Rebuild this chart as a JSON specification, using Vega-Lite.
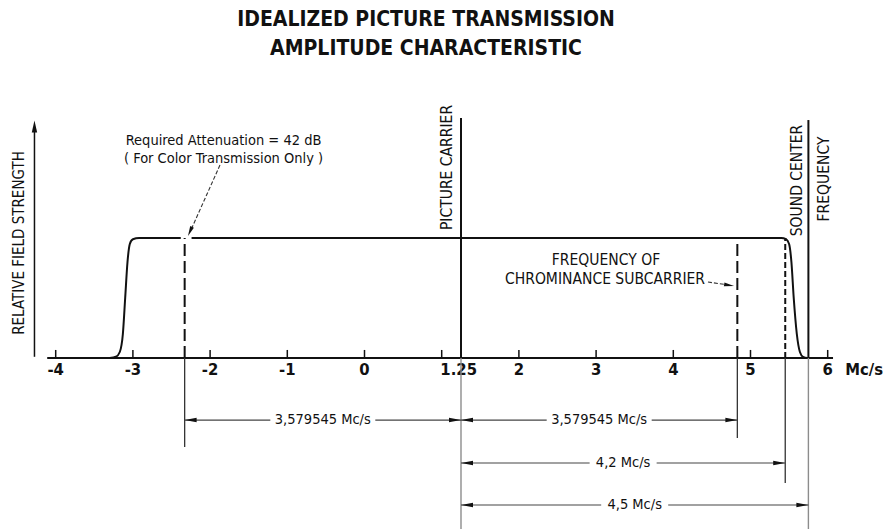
{
  "$schema": "https://vega.github.io/schema/vega-lite/v6.json",
  "width": 886,
  "height": 459,
  "autosize": {"type": "none"},
  "padding": {"top": 70, "left": 0, "right": 0, "bottom": 0},
  "background": "white",
  "title": {
    "text": ["IDEALIZED PICTURE TRANSMISSION", "AMPLITUDE CHARACTERISTIC"],
    "font": "DejaVu Sans Condensed, DejaVu Sans, sans-serif",
    "fontSize": 21,
    "fontWeight": "bold",
    "color": "#111",
    "anchor": "middle",
    "dx": -17,
    "offset": 11,
    "lineHeight": 29
  },
  "config": {
    "view": {"stroke": null},
    "text": {"font": "DejaVu Sans Condensed, DejaVu Sans, sans-serif", "fill": "#111", "baseline": "middle", "align": "center"}
  },
  "encoding": {
    "x": {"field": "x", "type": "quantitative", "scale": {"domain": [-4.7215, 6.7552], "nice": false, "zero": false}, "axis": null},
    "y": {"field": "y", "type": "quantitative", "scale": {"domain": [-1.425, 2.4], "nice": false, "zero": false}, "axis": null}
  },
  "layer": [
    {
      "data": {"values": [{"x": -4.275, "y": 0.01, "y2": 1.9}]},
      "mark": {"type": "rule", "strokeWidth": 1.5, "color": "#111"},
      "encoding": {"y2": {"field": "y2"}}
    },
    {
      "data": {"values": [{"x": -4.275, "y": 1.93}]},
      "mark": {"type": "point", "shape": "M0,-1L0.45,1L-0.45,1Z", "filled": true, "size": 144, "color": "#111", "opacity": 1, "strokeWidth": 0}
    },
    {
      "data": {"values": [{"x": -4.11, "x2": 6.069, "y": 0}]},
      "mark": {"type": "rule", "strokeWidth": 2.2, "color": "#111"},
      "encoding": {"x2": {"field": "x2"}}
    },
    {
      "data": {"values": [
        {"x": -4, "y": 0, "y2": 0.067}, {"x": -3, "y": 0, "y2": 0.067}, {"x": -2, "y": 0, "y2": 0.067},
        {"x": -1, "y": 0, "y2": 0.067}, {"x": 0, "y": 0, "y2": 0.067}, {"x": 1, "y": 0, "y2": 0.067},
        {"x": 2, "y": 0, "y2": 0.067}, {"x": 3, "y": 0, "y2": 0.067}, {"x": 4, "y": 0, "y2": 0.067},
        {"x": 5, "y": 0, "y2": 0.067}, {"x": 6, "y": 0, "y2": 0.067}
      ]},
      "mark": {"type": "rule", "strokeWidth": 1.5, "color": "#111"},
      "encoding": {"y2": {"field": "y2"}}
    },
    {
      "data": {"values": [
        {"x": -4, "y": -0.1, "label": "-4"}, {"x": -3, "y": -0.1, "label": "-3"}, {"x": -2, "y": -0.1, "label": "-2"},
        {"x": -1, "y": -0.1, "label": "-1"}, {"x": 0, "y": -0.1, "label": "0"}, {"x": 1.22, "y": -0.1, "label": "1.25"},
        {"x": 2, "y": -0.1, "label": "2"}, {"x": 3, "y": -0.1, "label": "3"}, {"x": 4, "y": -0.1, "label": "4"},
        {"x": 5, "y": -0.1, "label": "5"}, {"x": 6, "y": -0.1, "label": "6"}, {"x": 6.471, "y": -0.1, "label": "Mc/s"}
      ]},
      "mark": {"type": "text", "fontSize": 16.5, "fontWeight": "bold"},
      "encoding": {"text": {"field": "label"}}
    },
    {
      "data": {"values": [
        {"part": "a", "x": -3.30, "y": 0}, {"part": "a", "x": -3.22, "y": 0.01}, {"part": "a", "x": -3.17, "y": 0.05},
        {"part": "a", "x": -3.13, "y": 0.2}, {"part": "a", "x": -3.10, "y": 0.5}, {"part": "a", "x": -3.07, "y": 0.8},
        {"part": "a", "x": -3.04, "y": 0.95}, {"part": "a", "x": -3.00, "y": 0.99}, {"part": "a", "x": -2.92, "y": 1.0},
        {"part": "a", "x": -2.38, "y": 1.0},
        {"part": "b", "x": -2.24, "y": 1.0}, {"part": "b", "x": 5.40, "y": 1.0}, {"part": "b", "x": 5.46, "y": 0.99},
        {"part": "b", "x": 5.50, "y": 0.95}, {"part": "b", "x": 5.53, "y": 0.8}, {"part": "b", "x": 5.56, "y": 0.5},
        {"part": "b", "x": 5.60, "y": 0.2}, {"part": "b", "x": 5.64, "y": 0.05}, {"part": "b", "x": 5.68, "y": 0.01},
        {"part": "b", "x": 5.74, "y": 0}
      ]},
      "mark": {"type": "line", "interpolate": "monotone", "strokeWidth": 2, "color": "#111"},
      "encoding": {"detail": {"field": "part"}}
    },
    {
      "data": {"values": [{"x": 1.25, "y": 0, "y2": 2.0}, {"x": 5.75, "y": 0, "y2": 1.983}]},
      "mark": {"type": "rule", "strokeWidth": 2, "color": "#111"},
      "encoding": {"y2": {"field": "y2"}}
    },
    {
      "data": {"values": [{"x": 1.25, "y": -1.425, "y2": 0}, {"x": 5.75, "y": -1.425, "y2": 0}]},
      "mark": {"type": "rule", "strokeWidth": 1.4, "color": "#8c8c8c"},
      "encoding": {"y2": {"field": "y2"}}
    },
    {
      "data": {"values": [{"x": -2.3295, "y": 0, "y2": 1.0}, {"x": 4.8295, "y": 0, "y2": 1.0}]},
      "mark": {"type": "rule", "strokeWidth": 2, "color": "#111", "strokeDash": [12, 5]},
      "encoding": {"y2": {"field": "y2"}}
    },
    {
      "data": {"values": [{"x": 5.45, "y": 0, "y2": 1.0}]},
      "mark": {"type": "rule", "strokeWidth": 2, "color": "#111", "strokeDash": [6, 3]},
      "encoding": {"y2": {"field": "y2"}}
    },
    {
      "data": {"values": [{"x": -2.3295, "y": -0.742, "y2": 0}, {"x": 4.8295, "y": -0.667, "y2": 0}, {"x": 5.45, "y": -1.042, "y2": 0}]},
      "mark": {"type": "rule", "strokeWidth": 1.3, "color": "#333"},
      "encoding": {"y2": {"field": "y2"}}
    },
    {
      "data": {"values": [
        {"x": -2.3295, "x2": -1.22, "y": -0.517}, {"x": 0.14, "x2": 1.25, "y": -0.517},
        {"x": 1.25, "x2": 2.36, "y": -0.517}, {"x": 3.72, "x2": 4.8295, "y": -0.517},
        {"x": 1.25, "x2": 2.916, "y": -0.875}, {"x": 3.784, "x2": 5.45, "y": -0.875},
        {"x": 1.25, "x2": 3.066, "y": -1.225}, {"x": 3.934, "x2": 5.75, "y": -1.225}
      ]},
      "mark": {"type": "rule", "strokeWidth": 1.2, "color": "#444"},
      "encoding": {"x2": {"field": "x2"}}
    },
    {
      "data": {"values": [
        {"x": -2.252, "y": -0.517}, {"x": 1.328, "y": -0.517}, {"x": 1.328, "y": -0.875}, {"x": 1.328, "y": -1.225}
      ]},
      "mark": {"type": "point", "shape": "M-1,0L1,-0.38L1,0.38Z", "filled": true, "size": 144, "color": "#111", "opacity": 1, "strokeWidth": 0}
    },
    {
      "data": {"values": [
        {"x": 1.172, "y": -0.517}, {"x": 4.752, "y": -0.517}, {"x": 5.372, "y": -0.875}, {"x": 5.672, "y": -1.225}
      ]},
      "mark": {"type": "point", "shape": "M1,0L-1,-0.38L-1,0.38Z", "filled": true, "size": 144, "color": "#111", "opacity": 1, "strokeWidth": 0}
    },
    {
      "data": {"values": [
        {"x": -0.5398, "y": -0.517, "label": "3,579545 Mc/s"},
        {"x": 3.0398, "y": -0.517, "label": "3,579545 Mc/s"},
        {"x": 3.35, "y": -0.875, "label": "4,2 Mc/s"},
        {"x": 3.5, "y": -1.225, "label": "4,5 Mc/s"}
      ]},
      "mark": {"type": "text", "fontSize": 14.5},
      "encoding": {"text": {"field": "label"}}
    },
    {
      "data": {"values": [
        {"x": -1.826, "y": 1.808, "label": "Required Attenuation = 42 dB"},
        {"x": -1.826, "y": 1.658, "label": "( For Color Transmission Only )"}
      ]},
      "mark": {"type": "text", "fontSize": 14.5},
      "encoding": {"text": {"field": "label"}}
    },
    {
      "data": {"values": [
        {"x": 3.128, "y": 0.817, "label": "FREQUENCY OF"},
        {"x": 3.115, "y": 0.658, "label": "CHROMINANCE SUBCARRIER"}
      ]},
      "mark": {"type": "text", "fontSize": 15.5},
      "encoding": {"text": {"field": "label"}}
    },
    {
      "data": {"values": [
        {"x": 1.075, "y": 1.5875, "label": "PICTURE CARRIER"},
        {"x": 5.596, "y": 1.479, "label": "SOUND CENTER"},
        {"x": 5.946, "y": 1.492, "label": "FREQUENCY"}
      ]},
      "mark": {"type": "text", "fontSize": 15.5, "angle": 270},
      "encoding": {"text": {"field": "label"}}
    },
    {
      "data": {"values": [{"x": -4.475, "y": 0.958, "label": "RELATIVE FIELD STRENGTH"}]},
      "mark": {"type": "text", "fontSize": 15, "angle": 270},
      "encoding": {"text": {"field": "label"}}
    },
    {
      "data": {"values": [
        {"x": -1.872, "y": 1.608, "x2": -2.254, "y2": 1.058},
        {"x": 4.449, "y": 0.633, "x2": 4.72, "y2": 0.608}
      ]},
      "mark": {"type": "rule", "strokeWidth": 1.1, "color": "#333", "strokeDash": [4, 2]},
      "encoding": {"x2": {"field": "x2"}, "y2": {"field": "y2"}}
    },
    {
      "data": {"values": [{"x": -2.26, "y": 1.055}]},
      "mark": {"type": "point", "shape": "M0,-1L0.4,1L-0.4,1Z", "filled": true, "size": 100, "angle": 204, "color": "#111", "opacity": 1, "strokeWidth": 0}
    },
    {
      "data": {"values": [{"x": 4.723, "y": 0.607}]},
      "mark": {"type": "point", "shape": "M0,-1L0.4,1L-0.4,1Z", "filled": true, "size": 100, "angle": 99, "color": "#111", "opacity": 1, "strokeWidth": 0}
    }
  ]
}
